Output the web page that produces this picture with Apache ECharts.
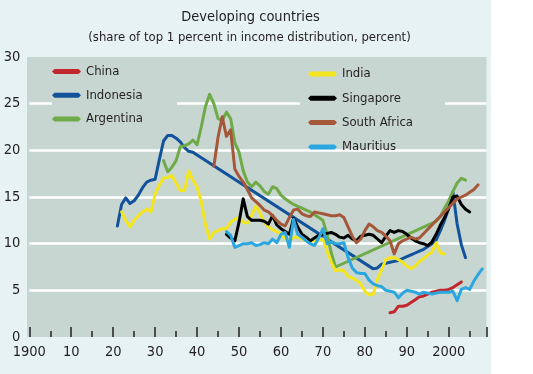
<!DOCTYPE html>
<html>
<head>
<meta charset="utf-8">
<script src="https://cdn.jsdelivr.net/npm/echarts@6/dist/echarts.min.js"></script>
<style>
html,body{margin:0;padding:0;background:#fff;}
#c{width:533px;height:374px;background:linear-gradient(to right,#E7F2F2 0,#E7F2F2 491px,#ffffff 491px);}
</style>
</head>
<body>
<div id="c"></div>
<script>
// ---- data ----
const titleText = "Developing countries";
const subtitleText = "(share of top 1 percent in income distribution, percent)";
const xTickLabels = {1900:"1900",1910:"10",1920:"20",1930:"30",1940:"40",1950:"50",1960:"60",1970:"70",1980:"80",1990:"90",2000:"2000"};
const yTicks = [0,5,10,15,20,25,30];

const chinaYears = [1986,1987,1988,1989,1990,1991,1992,1993,1994,1995,1996,1997,1998,1999,2000,2001,2002,2003];
const chinaValues = [2.6,2.7,3.3,3.3,3.4,3.7,4.0,4.3,4.4,4.6,4.8,4.9,5.0,5.0,5.1,5.3,5.6,5.9];

const indonesiaYears = [1921,1922,1923,1924,1925,1926,1927,1928,1929,1930,1931,1932,1933,1934,1935,1936,1937,1938,1939,1940,1982,1983,1984,1985,1986,1987,1988,1989,1990,1991,1992,1993,1994,1995,1996,1997,1998,1999,2000,2001,2002,2003,2004];
const indonesiaValues = [11.9,14.2,14.9,14.3,14.6,15.2,16.0,16.6,16.8,16.9,19.0,21.0,21.6,21.6,21.3,20.9,20.3,19.9,19.8,19.5,7.3,7.4,7.8,7.9,8.0,8.1,8.2,8.4,8.6,8.8,9.0,9.2,9.4,9.7,10.0,10.4,11.4,12.5,13.8,15.5,12.1,9.9,8.5];

const argentinaYears = [1932,1933,1934,1935,1936,1937,1938,1939,1940,1941,1942,1943,1944,1945,1946,1947,1948,1949,1950,1951,1952,1953,1954,1955,1956,1957,1958,1959,1960,1961,1962,1963,1964,1965,1966,1967,1968,1969,1970,1971,1972,1973,1997,1998,1999,2000,2001,2002,2003,2004];
const argentinaValues = [18.9,17.7,18.2,18.9,20.4,20.5,20.7,21.1,20.6,22.5,24.7,26.0,25.0,23.4,23.2,24.1,23.4,20.8,19.8,17.8,16.6,16.1,16.6,16.2,15.6,15.3,16.1,15.9,15.2,14.8,14.5,14.2,14.0,13.8,13.6,13.4,13.1,12.8,12.5,11.0,9.0,7.5,12.4,12.9,13.8,14.6,15.6,16.5,17.0,16.8];

const indiaYears = [1922,1923,1924,1925,1926,1927,1928,1929,1930,1931,1932,1933,1934,1935,1936,1937,1938,1939,1940,1941,1942,1943,1944,1945,1946,1947,1948,1949,1950,1951,1952,1953,1954,1955,1956,1957,1958,1959,1960,1961,1962,1963,1964,1965,1966,1967,1968,1969,1970,1971,1972,1973,1974,1975,1976,1977,1978,1979,1980,1981,1982,1983,1984,1985,1986,1987,1988,1989,1990,1991,1992,1993,1994,1995,1996,1997,1998,1999];
const indiaValues = [13.4,12.5,11.8,12.5,13.0,13.4,13.7,13.4,15.3,16.3,17.0,17.1,17.3,16.5,15.7,15.7,17.8,16.8,16.1,14.5,12.0,10.5,11.2,11.4,11.6,11.6,12.3,12.6,12.8,12.3,12.2,13.0,14.0,13.3,12.3,11.8,11.5,11.3,11.0,10.5,10.3,10.7,10.7,10.5,10.4,10.3,10.3,10.4,10.5,9.2,8.0,7.1,7.2,7.1,6.5,6.3,6.1,5.7,4.9,4.5,4.6,6.2,7.2,8.3,8.5,8.5,8.3,8.0,7.6,7.3,7.6,8.1,8.4,8.8,9.1,10.1,9.0,8.9];

const singaporeYears = [1947,1948,1949,1950,1951,1952,1953,1954,1955,1956,1957,1958,1959,1960,1961,1962,1963,1964,1965,1966,1967,1968,1969,1970,1971,1972,1973,1974,1975,1976,1977,1978,1979,1980,1981,1982,1983,1984,1985,1986,1987,1988,1989,1990,1991,1992,1993,1994,1995,1996,1997,1998,1999,2000,2001,2002,2003,2004,2005];
const singaporeValues = [11.0,10.6,10.3,12.3,14.8,12.9,12.5,12.5,12.5,12.4,12.1,13.0,12.0,11.6,11.3,11.0,12.7,11.8,11.0,10.7,10.3,10.6,10.9,11.0,11.1,11.2,11.0,10.7,10.6,10.9,10.5,10.3,10.8,10.9,11.0,10.9,10.5,10.1,10.8,11.4,11.2,11.4,11.3,11.0,10.6,10.3,10.1,10.0,9.8,10.2,11.0,12.0,12.8,13.8,15.0,15.1,14.2,13.7,13.4];

const southAfricaYears = [1944,1945,1946,1947,1948,1949,1950,1951,1952,1953,1954,1955,1956,1957,1958,1959,1960,1961,1962,1963,1964,1965,1966,1967,1968,1969,1970,1971,1972,1973,1974,1975,1976,1977,1978,1979,1980,1981,1982,1983,1984,1985,1986,1987,1988,1989,1990,1991,1992,1993,2002,2003,2004,2005,2006,2007];
const southAfricaValues = [18.3,21.4,23.6,21.5,22.2,18.0,17.2,16.6,15.8,14.9,14.5,14.1,13.6,13.4,13.0,12.5,12.1,11.9,12.8,13.6,13.7,13.2,13.0,12.9,13.4,13.3,13.2,13.1,13.0,13.0,13.1,12.8,11.8,10.8,10.1,10.5,11.4,12.1,11.8,11.4,11.2,10.8,10.3,8.9,10.0,10.3,10.5,10.7,10.5,10.6,14.8,15.0,15.2,15.5,15.8,16.3];

const mauritiusYears = [1947,1948,1949,1950,1951,1952,1953,1954,1955,1956,1957,1958,1959,1960,1961,1962,1963,1964,1965,1966,1967,1968,1969,1970,1971,1972,1973,1974,1975,1976,1977,1978,1979,1980,1981,1982,1983,1984,1985,1986,1987,1988,1989,1990,1991,1992,1993,1994,1995,1996,1997,1998,1999,2000,2001,2002,2003,2004,2005,2006,2007,2008];
const mauritiusValues = [11.3,10.9,9.6,9.8,10.0,10.0,10.1,9.8,9.9,10.1,10.0,10.5,10.1,11.0,11.2,9.6,12.6,11.0,10.7,10.3,10.0,9.8,10.6,11.6,10.0,10.2,10.0,10.0,10.1,8.5,7.4,6.9,6.8,6.8,6.1,5.7,5.5,5.4,5.0,4.9,4.8,4.2,4.7,5.0,4.9,4.8,4.6,4.8,4.7,4.6,4.7,4.8,4.8,4.8,4.9,3.9,5.1,5.3,5.1,6.0,6.7,7.3];

const seriesNames = ["China","Indonesia","Argentina","India","Singapore","South Africa","Mauritius"];
const seriesColors = ["#C1272D","#12529A","#6FAA48","#F4E61E","#000000","#A5573A","#2CA6DE"];
const seriesYears = [chinaYears,indonesiaYears,argentinaYears,indiaYears,singaporeYears,southAfricaYears,mauritiusYears];
const seriesValues = [chinaValues,indonesiaValues,argentinaValues,indiaValues,singaporeValues,southAfricaValues,mauritiusValues];

// ---- chart ----
const FONT = '"Liberation Sans Narrow","Arial Narrow","DejaVu Sans Condensed",sans-serif';
const TXT = '#231F20';
const PLOT_BG = '#C8D6D2';
const chart = echarts.init(document.getElementById('c'), null, {renderer:'canvas'});
const G = {left:29.3, right:46.5, top:57, bottom:37};

const legendIcon = 'path://M0,2.5 L2.5,0 L26.5,0 L29,2.5 L26.5,5 L2.5,5 Z';

const series = seriesNames.map((name,i)=>({
  name: name,
  type: 'line',
  data: seriesYears[i].map((y,j)=>[y, seriesValues[i][j]]),
  showSymbol: false,
  symbol: 'none',
  lineStyle: {color: seriesColors[i], width: 3, join: 'round', cap: 'round'},
  itemStyle: {color: seriesColors[i]},
  emphasis: {disabled: true},
  silent: true,
  animation: false,
  z: 2
}));

const legendText = {fontSize:13, lineHeight:15, color:TXT, fontFamily:FONT};

const option = {
  animation: false,
  textStyle: {fontFamily: FONT},
  grid: {left: G.left, right: G.right, top: G.top, bottom: G.bottom, containLabel: false},
  graphic: [
    {type:'rect', z:-10, shape:{x:27, y:G.top, width:533-G.right-27, height:374-G.top-G.bottom}, style:{fill:PLOT_BG}},
    {type:'rect', z:1, shape:{x:52, y:98, width:125, height:10}, style:{fill:PLOT_BG}},
    {type:'rect', z:1, shape:{x:300, y:98, width:145, height:10}, style:{fill:PLOT_BG}},
    {type:'text', style:{text:titleText, x:250.5, y:17, align:'center', verticalAlign:'middle', font:'14.5px '+FONT, fill:TXT}},
    {type:'text', style:{text:subtitleText, x:249.5, y:38, align:'center', verticalAlign:'middle', font:'13px '+FONT, fill:TXT}}
  ],
  legend: [
    {data: seriesNames.slice(0,3), orient:'vertical', left:52, top:64, itemWidth:29, itemHeight:5, itemGap:8.8, icon: legendIcon,
     padding:0, textStyle:legendText, selectedMode:false},
    {data: seriesNames.slice(3), orient:'vertical', left:308, top:66.5, itemWidth:29, itemHeight:5, itemGap:9.3, icon: legendIcon,
     padding:0, textStyle:legendText, selectedMode:false}
  ],
  xAxis: {
    type:'value', min:1900, max:2009, interval:10,
    axisLine:{show:false},
    axisTick:{show:true, inside:true, length:10, lineStyle:{color:'#222', width:1.5}},
    minorTick:{show:true, splitNumber:2, length:6, lineStyle:{color:'#222', width:1.5}},
    splitLine:{show:false},
    axisLabel:{margin:8, fontSize:14.5, color:TXT, fontFamily:FONT, showMaxLabel:false,
      formatter:(v)=> xTickLabels[v] !== undefined ? xTickLabels[v] : ''}
  },
  yAxis: {
    type:'value', min:yTicks[0], max:yTicks[yTicks.length-1], interval:5,
    axisLine:{show:false}, axisTick:{show:false},
    splitLine:{show:true, lineStyle:{color:['rgba(0,0,0,0)','#ffffff','#ffffff','#ffffff','#ffffff','#ffffff','rgba(0,0,0,0)'], width:2.5}},
    axisLabel:{margin:9, fontSize:14.5, color:TXT, fontFamily:FONT}
  },
  series: series
};
chart.setOption(option);
</script>
</body>
</html>
